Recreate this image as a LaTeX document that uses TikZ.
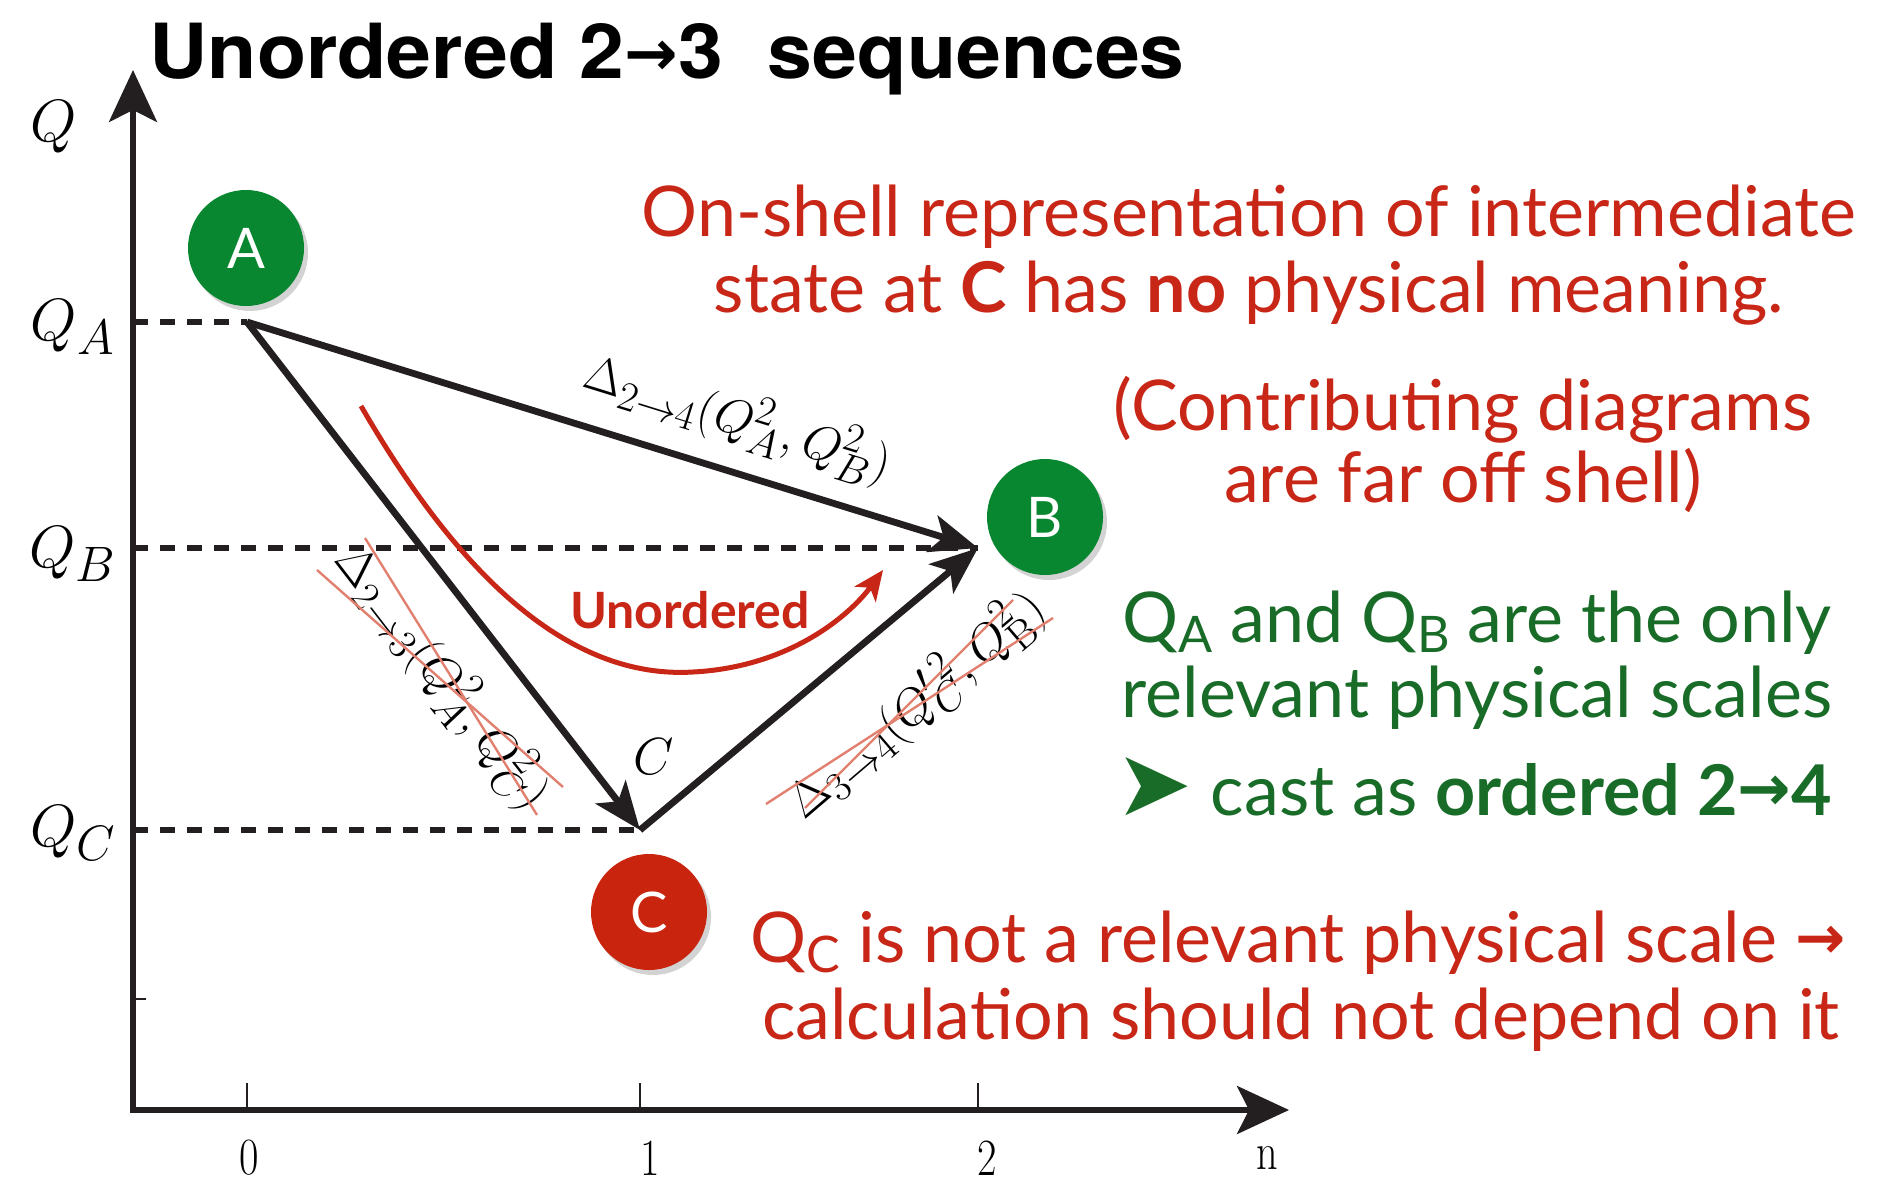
\documentclass[tikz,border=0pt]{standalone}
\usepackage{fontspec}
\usetikzlibrary{arrows.meta,shadows}
\newfontfamily\avenir{Lato}
\newfontfamily\titlefont[FakeStretch=1.06]{TeX Gyre Heros}
\newfontfamily\dejavu{DejaVu Sans}
\definecolor{myred}{RGB}{200,38,22}
\definecolor{mygreen}{RGB}{24,108,40}
\definecolor{circgreen}{RGB}{8,135,48}
\definecolor{circred}{RGB}{200,36,14}
\definecolor{crossred}{RGB}{226,128,112}
\definecolor{ink}{RGB}{35,31,32}
\newcommand\ssub[1]{\raisebox{-0.3ex}{\scalebox{0.72}{#1}}}
\newcommand\bodyfont{\avenir\fontsize{35}{38}\selectfont}
\newcommand\axl[1]{\scalebox{1.2}{$#1$}}
\begin{document}
\begin{tikzpicture}[x=0.5pt,y=-0.5pt,
  arr/.style={line width=3.4pt, draw=ink, -{Stealth[length=24pt,width=19pt,inset=6pt]}},
  axisline/.style={line width=2.6pt, draw=ink, line join=miter, {Stealth[length=26pt,width=24pt,inset=6pt]}-{Stealth[length=26pt,width=24pt,inset=6pt]}},
  dashline/.style={line width=2.6pt, draw=ink, dash pattern=on 7.5pt off 6pt},
  crossline/.style={line width=1.2pt, draw=crossred},
  tickline/.style={line width=1.2pt, draw=ink},
  ball/.style={circle, minimum size=58pt, inner sep=0pt, text=white, font=\avenir\fontsize{28}{28}\selectfont,
    drop shadow={shadow xshift=2pt, shadow yshift=-2.5pt, opacity=0.35}},
  mlabel/.style={inner sep=0pt, font=\fontsize{24.88}{28}\selectfont},
  axlabel/.style={inner sep=0pt, font=\fontsize{24.88}{28}\selectfont},
  ticklabel/.style={inner sep=0pt, font=\fontsize{24.88}{28}\selectfont},
  redtext/.style={anchor=base, inner sep=0pt, text=myred, font=\bodyfont},
  greentext/.style={anchor=base, inner sep=0pt, text=mygreen, font=\bodyfont}
]
\useasboundingbox (0,0) rectangle (1898,1182);

% title
\node[anchor=base west, inner sep=0pt, font=\titlefont\bfseries\fontsize{38}{40}\selectfont] (title) at (149,79)
  {Unordered 2{\dejavu\bfseries\fontsize{32}{34}\selectfont\raisebox{0.1ex}{→}}3\ \ sequences};

% axes
\coordinate (O) at (133,1110);
\coordinate (ytip) at (133,70);
\coordinate (xtip) at (1289,1110);
\draw[axisline] (ytip) -- (O) -- (xtip);
\draw[tickline] (247,1110) -- (247,1083);
\draw[tickline] (640,1110) -- (640,1083);
\draw[tickline] (978,1110) -- (978,1083);
\draw[tickline] (133,999) -- (146,999);

\node[ticklabel] (t0) at (249,1158) {\scalebox{0.85}[1.05]{0}};
\node[ticklabel] (t1) at (650,1158) {\scalebox{0.85}[1.05]{1}};
\node[ticklabel] (t2) at (987,1158) {\scalebox{0.85}[1.05]{2}};
\node[ticklabel] (tn) at (1267,1158) {\scalebox{0.85}[1.05]{n}};

\node[axlabel] (lQ) at (54,127) {\axl{Q}};
\node[axlabel] (lQA) at (73,327) {\axl{Q_A}};
\node[axlabel] (lQB) at (73,554) {\axl{Q_B}};
\node[axlabel] (lQC) at (73,833) {\axl{Q_C}};

% points
\coordinate (pA) at (247,322);
\coordinate (pB) at (978,548);
\coordinate (pC) at (640,830);
\coordinate (yA) at (133,322);
\coordinate (yB) at (133,548);
\coordinate (yC) at (133,830);

\draw[dashline] (yA) -- (pA);
\draw[dashline] (yB) -- (pB);
\draw[dashline] (yC) -- (pC);

\draw[arr] (pA) -- (pC);
\draw[arr] (pA) -- (pB);
\draw[arr] (pC) -- (pB);

% circles
\node[ball, fill=circgreen] (A) at (246,248) {A};
\node[ball, fill=circgreen] (B) at (1045,517) {B};
\node[ball, fill=circred] (C) at (649,912) {C};

% labels on arrows
\node[mlabel, rotate=-17.2] (l24) at (738,419) {$\Delta_{2\to4}(Q_A^2,Q_B^2)$};
\node[mlabel, rotate=-52.3] (l23) at (443,677) {$\Delta_{2\to3}(Q_A^2,Q_C^2)$};
\node[mlabel, rotate=40.5] (l34) at (916,705) {$\Delta_{3\to4}(Q_C'^{\,2},Q_{\mathrm{B}}^2)$};
\node[mlabel] (lC) at (654,757) {\scalebox{1.05}{$C$}};

% crossing-out lines
\draw[crossline] (317,570) -- (563,787);
\draw[crossline] (365,538) -- (537,815);
\draw[crossline] (766,804) -- (1053,618);
\draw[crossline] (805,808) -- (1013,600);

% unordered curve
\coordinate (u0) at (361,406);
\coordinate (u1) at (883,570);
\draw[line width=2.5pt, draw=myred, -{Stealth[length=15pt,width=13pt,inset=4pt]}]
  (u0) .. controls (450,560) and (560,680) .. (693,672) .. controls (790,667) and (850,615) .. (u1);
\node[inner sep=0pt, text=myred, font=\avenir\bfseries\fontsize{25}{27}\selectfont] (uo) at (690,610) {Unordered};

% text blocks
\node[redtext] (r1) at (1249,236) {On-shell representation of intermediate};
\node[redtext] (r2) at (1249,312) {state at {\bfseries C} has {\bfseries no} physical meaning.};
\node[redtext] (r3) at (1463,430) {(Contributing diagrams};
\node[redtext] (r4) at (1463,502) {are far off shell)};
\node[greentext] (g1) at (1477,642) {Q\ssub{A} and Q\ssub{B} are the only};
\node[greentext] (g2) at (1477,717) {relevant physical scales};
\node[greentext] (g3) at (1474,815) {{\dejavu\fontsize{46}{46}\selectfont ➤} cast as {\bfseries ordered 2{\dejavu\bfseries\fontsize{32}{32}\selectfont\raisebox{0.12ex}{→}}4}};
\node[redtext] (r5) at (1298,962) {Q\ssub{C} is not a relevant physical scale {\dejavu\bfseries\fontsize{30}{30}\selectfont\raisebox{0.12ex}{→}}};
\node[redtext] (r6) at (1301,1039) {calculation should not depend on it};
\end{tikzpicture}
\end{document}
